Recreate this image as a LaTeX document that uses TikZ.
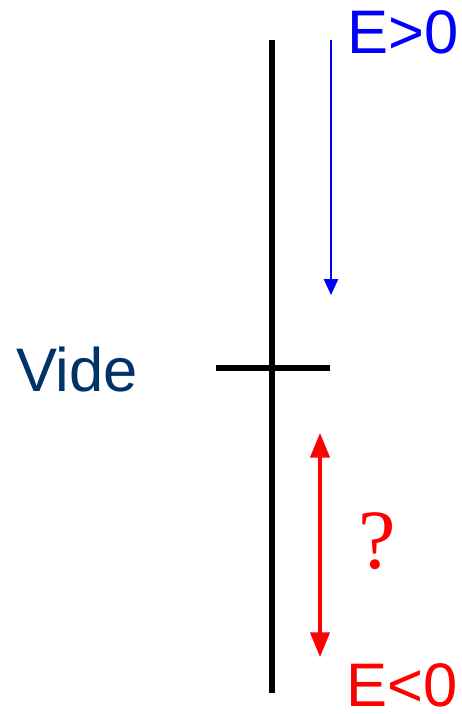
\documentclass[tikz,border=0pt]{standalone}
\usepackage{fontspec}
\setmainfont{Liberation Sans}
\newfontfamily\serifq{Liberation Serif}
\usepackage{xcolor}
\usetikzlibrary{arrows.meta}

\definecolor{videblue}{RGB}{0,51,102}

\begin{document}
\begin{tikzpicture}[
    x=0.02cm, y=-0.02cm,
    axis/.style={line width=3.4pt, color=black},
    lbl/.style={font=\fontsize{35}{40}\selectfont, inner sep=0pt, anchor=base},
    arr/.style={-{Triangle[length=9pt, width=8pt]}, line width=1.2pt},
]

% ===== Bounding box =====
\useasboundingbox (0,0) rectangle (461,714);

% ===== Energy axis =====
\coordinate (top) at (272,40);
\coordinate (bot) at (272,693);
\draw[axis] (top) -- (bot);

% ===== Vacuum level =====
\coordinate (vl) at (216,368);
\coordinate (vr) at (330,368);
\draw[axis] (vl) -- (vr);
\node[lbl, color=videblue] (vide) at (77,391) {Vide};

% ===== Positive energies =====
\node[lbl, color=blue] (epos) at (403,53) {E>0};
\coordinate (bs) at (331,40);
\coordinate (be) at (331,295);
\draw[arr, color=blue] (bs) -- (be);

% ===== Negative energies =====
\node[lbl, color=red] (eneg) at (402,706) {E<0};
\coordinate (rs) at (320,433);
\coordinate (re) at (320,657);
\draw[arr, {Triangle[length=14pt, width=11pt]}-{Triangle[length=14pt, width=11pt]}, line width=1.8pt, color=red] (rs) -- (re);
\node[font=\serifq\fontsize{48}{54}\selectfont, color=red, inner sep=0pt] (quest) at (377,541) {?};

\end{tikzpicture}
\end{document}
